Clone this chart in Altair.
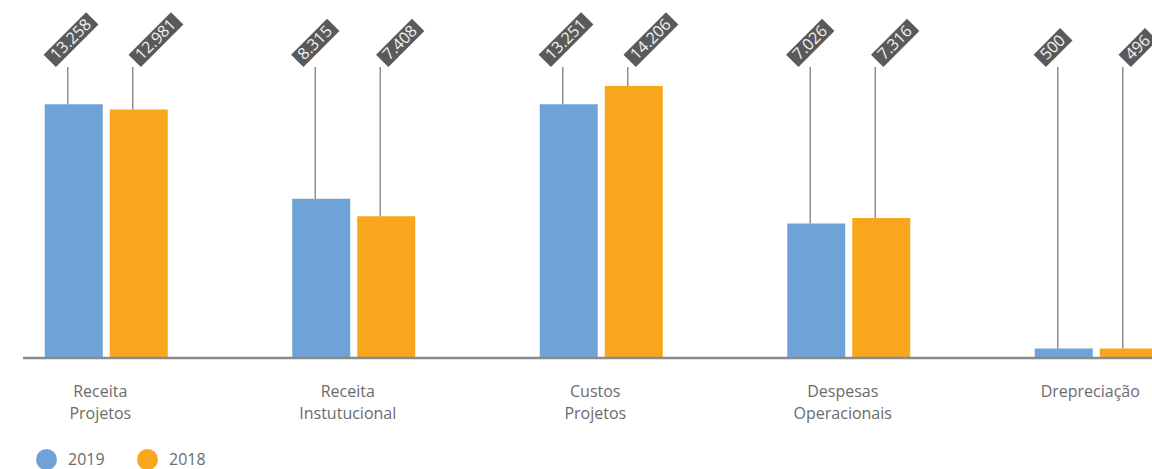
import altair as alt
import pandas as pd

# Categories and yearly values (R$ mil)
categories = ["Receita Projetos", "Receita Instutucional", "Custos Projetos",
              "Despesas Operacionais", "Drepreciação"]
years = ["2019", "2018"]
values_2019 = [13258, 8315, 13251, 7026, 500]
values_2018 = [12981, 7408, 14206, 7316, 496]

BLUE = "#6fa3d8"
ORANGE = "#f8a61b"
GREY_TEXT = "#6b6b6b"
FONT = "Open Sans"

PLOT_W = 1129
PLOT_H = 358
Y_MAX = 18700
CALLOUT_LEVEL = 15200   # value level where the leader lines end and the tags sit

# tag geometry (in the tag's own rotated frame, pixels)
TAG_FONT = 16
BOX_H = 17.5
BOX_PAD = 5
DIGIT_W = 9.15
SEP_W = 4.3


def fmt_pt(v):
    return f"{v:,}".replace(",", ".")


def tag_path(label):
    w = sum(SEP_W if c in ".," else DIGIT_W for c in label) + 2 * BOX_PAD
    return f"M0,0L{w:.1f},0L{w:.1f},{-BOX_H}L0,{-BOX_H}Z"


rows = []
for cat, v19, v18 in zip(categories, values_2019, values_2018):
    for year, v in (("2019", v19), ("2018", v18)):
        label = fmt_pt(v)
        rows.append({"category": cat, "year": year, "value": v,
                     "label": label, "tag": tag_path(label)})
df = pd.DataFrame(rows)

x_enc = alt.X(
    "category:N",
    sort=categories,
    scale=alt.Scale(range=[-40.5, 1197], paddingInner=0, paddingOuter=0),
    title=None,
    axis=alt.Axis(
        labelExpr="split(datum.label, ' ')",
        labelAngle=0,
        labelFontSize=16,
        labelFont=FONT,
        labelColor=GREY_TEXT,
        labelLineHeight=22,
        labelPadding=25,
        labelBaseline="top",
        labelOffset=-6,
        labelOverlap=False,
        ticks=False,
        domain=False,
        grid=False,
    ),
)
# bars sit centred in each category band; leader lines and tags sit a little left of bar centres
xoff_bar = alt.XOffset("year:N", sort=years,
                       scale=alt.Scale(paddingInner=0.1077, paddingOuter=0.9577))
xoff_tag = alt.XOffset("year:N", sort=years,
                       scale=alt.Scale(paddingInner=0.1077, paddingOuter=0.9577, align=0.4518))
y_scale = alt.Scale(domain=[0, Y_MAX])

base = alt.Chart(df)

bars = base.mark_bar(clip=True).encode(
    x=x_enc,
    xOffset=xoff_bar,
    y=alt.Y("value:Q", scale=y_scale, axis=None),
    color=alt.Color(
        "year:N",
        scale=alt.Scale(domain=years, range=[BLUE, ORANGE]),
        legend=alt.Legend(
            orient="none",
            legendX=13,
            legendY=449,
            direction="horizontal",
            title=None,
            symbolType="circle",
            symbolSize=440,
            symbolStrokeWidth=0,
            symbolOpacity=1,
            labelFontSize=16,
            labelFont=FONT,
            labelColor=GREY_TEXT,
            labelOffset=11,
            columnPadding=32,
            padding=0,
        ),
    ),
)

leaders = base.mark_rule(color="#8f8f8f", strokeWidth=1.5).encode(
    x=x_enc,
    xOffset=xoff_tag,
    y=alt.Y("value:Q", scale=y_scale, axis=None),
    y2=alt.datum(CALLOUT_LEVEL),
)

tags = base.mark_point(filled=True, size=4, angle=315, color="#5a5a5a",
                       opacity=1, strokeWidth=0).encode(
    x=x_enc,
    xOffset=xoff_tag,
    y=alt.datum(CALLOUT_LEVEL, scale=y_scale),
    shape=alt.Shape("tag:N", scale=None),
)

tag_text = base.mark_text(angle=315, align="left", baseline="middle",
                          dx=BOX_PAD, dy=-BOX_H / 2, fontSize=TAG_FONT, font=FONT,
                          color="#f2f2f2").encode(
    x=x_enc,
    xOffset=xoff_tag,
    y=alt.datum(CALLOUT_LEVEL, scale=y_scale),
    text="label:N",
)

baseline = alt.Chart(pd.DataFrame({"zero": [0]})).mark_rule(
    color="#8a8a8a", strokeWidth=2.5
).encode(
    x=alt.value(0),
    x2=alt.value(PLOT_W),
    y=alt.Y("zero:Q", scale=y_scale, axis=None),
)

chart = (
    alt.layer(bars, baseline, leaders, tags, tag_text)
    .resolve_scale(xOffset="independent")
    .properties(
        width=PLOT_W,
        height=PLOT_H,
        autosize=alt.AutoSizeParams(type="none"),
        padding={"left": 23, "top": 0, "right": 0, "bottom": 111},
    )
    .configure(font=FONT, background="white")
    .configure_view(strokeWidth=0)
)

chart.save("out.html", embed_options={"renderer": "svg", "actions": False})
